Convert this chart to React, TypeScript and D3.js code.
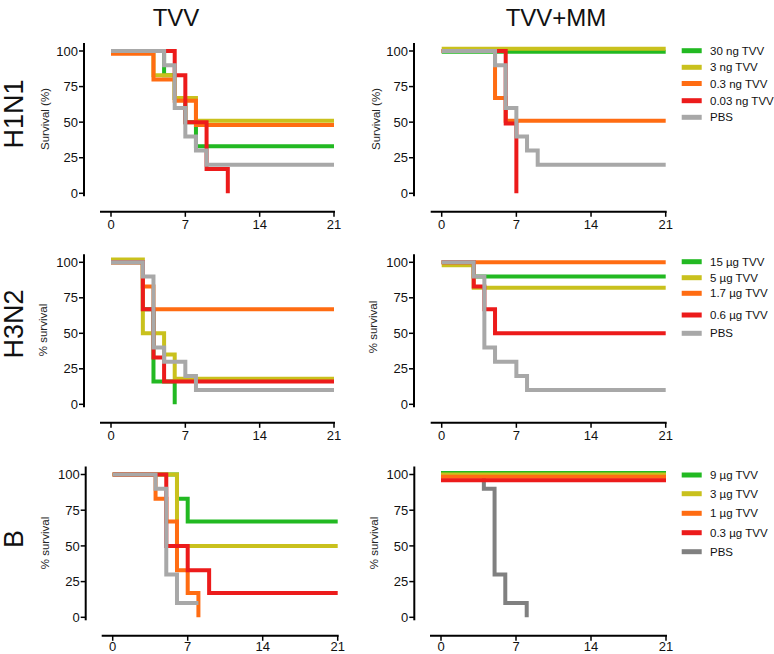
import React from 'react';
import * as d3 from 'd3';

type Pt = [number, number];

// ---------- data ----------
const dayTicks = [0, 7, 14, 21];
const survivalTicks = [0, 25, 50, 75, 100];
const columnTitles = ['TVV', 'TVV+MM'];
const rowTitles = ['H1N1', 'H3N2', 'B'];
const yTitles = ['Survival (%)', '% survival', '% survival'];

const h1n1Labels = ['30 ng TVV', '3 ng TVV', '0.3 ng TVV', '0.03 ng TVV', 'PBS'];
const h3n2Labels = ['15 \u00b5g TVV', '5 \u00b5g TVV', '1.7 \u00b5g TVV', '0.6 \u00b5g TVV', 'PBS'];
const bLabels = ['9 \u00b5g TVV', '3 \u00b5g TVV', '1 \u00b5g TVV', '0.3 \u00b5g TVV', 'PBS'];

// series order: highest dose, ..., lowest dose, PBS
const h1n1TVV: Pt[][] = [
  [[0, 100], [5, 83], [6, 67], [7, 50], [8, 33], [21, 33]],
  [[0, 100], [4, 83], [6, 67], [8, 51], [21, 51]],
  [[0, 98], [4, 80], [6, 65], [8, 48], [21, 48]],
  [[0, 100], [6, 83], [7, 50], [9, 17], [11, 0]],
  [[0, 100], [5, 90], [6, 60], [7, 40], [8, 30], [9, 20], [21, 20]],
];
const h1n1MM: Pt[][] = [
  [[0, 99.5], [21, 99.5]],
  [[0, 101.5], [21, 101.5]],
  [[0, 100], [5, 67], [6, 51], [21, 51]],
  [[0, 100], [6, 49], [7, 0]],
  [[0, 100], [5, 90], [6, 60], [7, 40], [8, 30], [9, 20], [21, 20]],
];
const h3n2TVV: Pt[][] = [
  [[0, 100], [3, 67], [4, 16], [6, 0]],
  [[0, 102], [3, 50], [5, 35], [6, 18], [21, 18]],
  [[0, 100], [3, 83], [4, 67], [21, 67]],
  [[0, 100], [3, 67], [4, 33], [5, 16], [21, 16]],
  [[0, 100], [3, 90], [4, 40], [5, 30], [7, 20], [8, 10], [21, 10]],
];
const h3n2MM: Pt[][] = [
  [[0, 100], [3, 90], [21, 90]],
  [[0, 98], [3, 82], [21, 82]],
  [[0, 100], [21, 100]],
  [[0, 100], [3, 83], [4, 67], [5, 50], [21, 50]],
  [[0, 100], [3, 90], [4, 40], [5, 30], [7, 20], [8, 10], [21, 10]],
];
const bTVV: Pt[][] = [
  [[0, 100], [6, 83], [7, 67], [21, 67]],
  [[0, 100], [6, 50], [21, 50]],
  [[0, 100], [4, 83], [5, 67], [6, 33], [7, 17], [8, 0]],
  [[0, 100], [5, 50], [7, 33], [9, 17], [21, 17]],
  [[0, 100], [4, 90], [5, 30], [6, 10], [8, 10]],
];
const bMM: Pt[][] = [
  [[0, 101], [21, 101]],
  [[0, 100], [21, 100]],
  [[0, 98.5], [21, 98.5]],
  [[0, 96], [21, 96]],
  [[0, 100], [4, 90], [5, 30], [6, 10], [8, 0]],
];

// ---------- styles / layout ----------
const seriesColors = ['#22b922', '#c9c11d', '#ff6c12', '#ec1b1b', '#a8a8a8'];
const darkGray = '#808080';
const FONT = '"Liberation Sans", Arial, Helvetica, sans-serif';
const defaultOrder = [0, 1, 2, 3, 4];
const pbsFirstOrder = [4, 0, 1, 2, 3];

interface PanelLayout {
  axisX: number; x0: number; x21: number; y100: number; y0: number;
}
const layouts: PanelLayout[][] = [
  [
    { axisX: 84, x0: 111, x21: 334, y100: 51, y0: 193.3 },
    { axisX: 414, x0: 441.7, x21: 665.7, y100: 51, y0: 193.3 },
  ],
  [
    { axisX: 84, x0: 111, x21: 334, y100: 262.3, y0: 404.3 },
    { axisX: 414, x0: 441.7, x21: 665.7, y100: 262.3, y0: 404.3 },
  ],
  [
    { axisX: 85.7, x0: 112.7, x21: 337.7, y100: 474.5, y0: 617.3 },
    { axisX: 414.3, x0: 441, x21: 666, y100: 474.5, y0: 617.3 },
  ],
];
const legendYs = [
  [50.7, 67.3, 83.5, 100.7, 117.3],
  [261.7, 277.7, 293.3, 315, 333.3],
  [475, 493.7, 513.3, 532.7, 551.7],
];
const rowCenters = [114, 324, 539];
const yTitlePos = [
  [{ x: 49, y: 119 }, { x: 380, y: 119 }],
  [{ x: 47, y: 330 }, { x: 377, y: 327 }],
  [{ x: 49, y: 543 }, { x: 378, y: 543 }],
];

function Panel(props: {
  layout: PanelLayout; series: Pt[][]; colors: string[]; order: number[]; yTitle: string; yTitleX: number; yTitleY: number;
}) {
  const { layout, series, colors, order, yTitle, yTitleX, yTitleY } = props;
  const x = d3.scaleLinear().domain([0, 21]).range([layout.x0, layout.x21]);
  const y = d3.scaleLinear().domain([0, 100]).range([layout.y0, layout.y100]);
  const line = d3.line<Pt>().x(d => x(d[0])).y(d => y(d[1])).curve(d3.curveStepAfter);
  const xAxisY = layout.y0 + 18.5;
  const labelY = Math.min(xAxisY + 17, 650.5);
  return (
    <g>
      {/* y axis */}
      <line x1={layout.axisX} x2={layout.axisX} y1={layout.y100 - 8} y2={layout.y0 + 3} stroke="#000" strokeWidth={2} />
      {survivalTicks.map(t => (
        <g key={t}>
          <line x1={layout.axisX - 5} x2={layout.axisX} y1={y(t)} y2={y(t)} stroke="#000" strokeWidth={1.5} />
          <text x={layout.axisX - 6} y={y(t)} dy="0.36em" textAnchor="end" fontSize={13} fill="#111">{t}</text>
        </g>
      ))}
      {/* x axis */}
      <line x1={layout.x0 - 11} x2={layout.x21 + 1} y1={xAxisY} y2={xAxisY} stroke="#000" strokeWidth={2} />
      {dayTicks.map(t => (
        <g key={t}>
          <line x1={x(t)} x2={x(t)} y1={xAxisY} y2={xAxisY + 5} stroke="#000" strokeWidth={1.5} />
          <text x={x(t)} y={labelY} textAnchor="middle" fontSize={13} fill="#111">{t}</text>
        </g>
      ))}
      <text transform={`translate(${yTitleX},${yTitleY}) rotate(-90)`} textAnchor="middle" fontSize={11.5} fill="#222">{yTitle}</text>
      {order.map(i => (
        <path key={i} d={line(series[i]) || ''} fill="none" stroke={colors[i]} strokeWidth={4} strokeLinejoin="miter" />
      ))}
    </g>
  );
}

function Legend(props: { labels: string[]; colors: string[]; ys: number[] }) {
  const { labels, colors, ys } = props;
  return (
    <g>
      {labels.map((l, i) => (
        <g key={l}>
          <line x1={681.7} x2={701.7} y1={ys[i]} y2={ys[i]} stroke={colors[i]} strokeWidth={5} />
          <text x={710} y={ys[i]} dy="0.36em" fontSize={11.5} fill="#111">{l}</text>
        </g>
      ))}
    </g>
  );
}

export default function App() {
  const panelData: Pt[][][][] = [
    [h1n1TVV, h1n1MM],
    [h3n2TVV, h3n2MM],
    [bTVV, bMM],
  ];
  const legendLabels = [h1n1Labels, h3n2Labels, bLabels];
  const bColors = [...seriesColors.slice(0, 4), darkGray];
  return (
    <svg width={774} height={654} style={{ position: 'absolute', left: 0, top: 0, background: '#fff' }} fontFamily={FONT}>
      <rect width={774} height={654} fill="#fff" />
      <text x={176} y={26} textAnchor="middle" fontSize={24} fill="#111">{columnTitles[0]}</text>
      <text x={556} y={26} textAnchor="middle" fontSize={24} fill="#111">{columnTitles[1]}</text>
      {rowTitles.map((r, i) => (
        <text key={r} transform={`translate(23,${rowCenters[i]}) rotate(-90)`} textAnchor="middle" fontSize={27} fill="#111">{r}</text>
      ))}
      {panelData.map((row, ri) => (
        <g key={ri}>
          {row.map((series, ci) => (
            <Panel
              key={ci}
              layout={layouts[ri][ci]}
              series={series}
              colors={ri === 2 && ci === 1 ? bColors : seriesColors}
              order={ri === 2 && ci === 1 ? pbsFirstOrder : defaultOrder}
              yTitle={yTitles[ri]}
              yTitleX={yTitlePos[ri][ci].x}
              yTitleY={yTitlePos[ri][ci].y}
            />
          ))}
          <Legend labels={legendLabels[ri]} colors={ri === 2 ? bColors : seriesColors} ys={legendYs[ri]} />
        </g>
      ))}
    </svg>
  );
}
